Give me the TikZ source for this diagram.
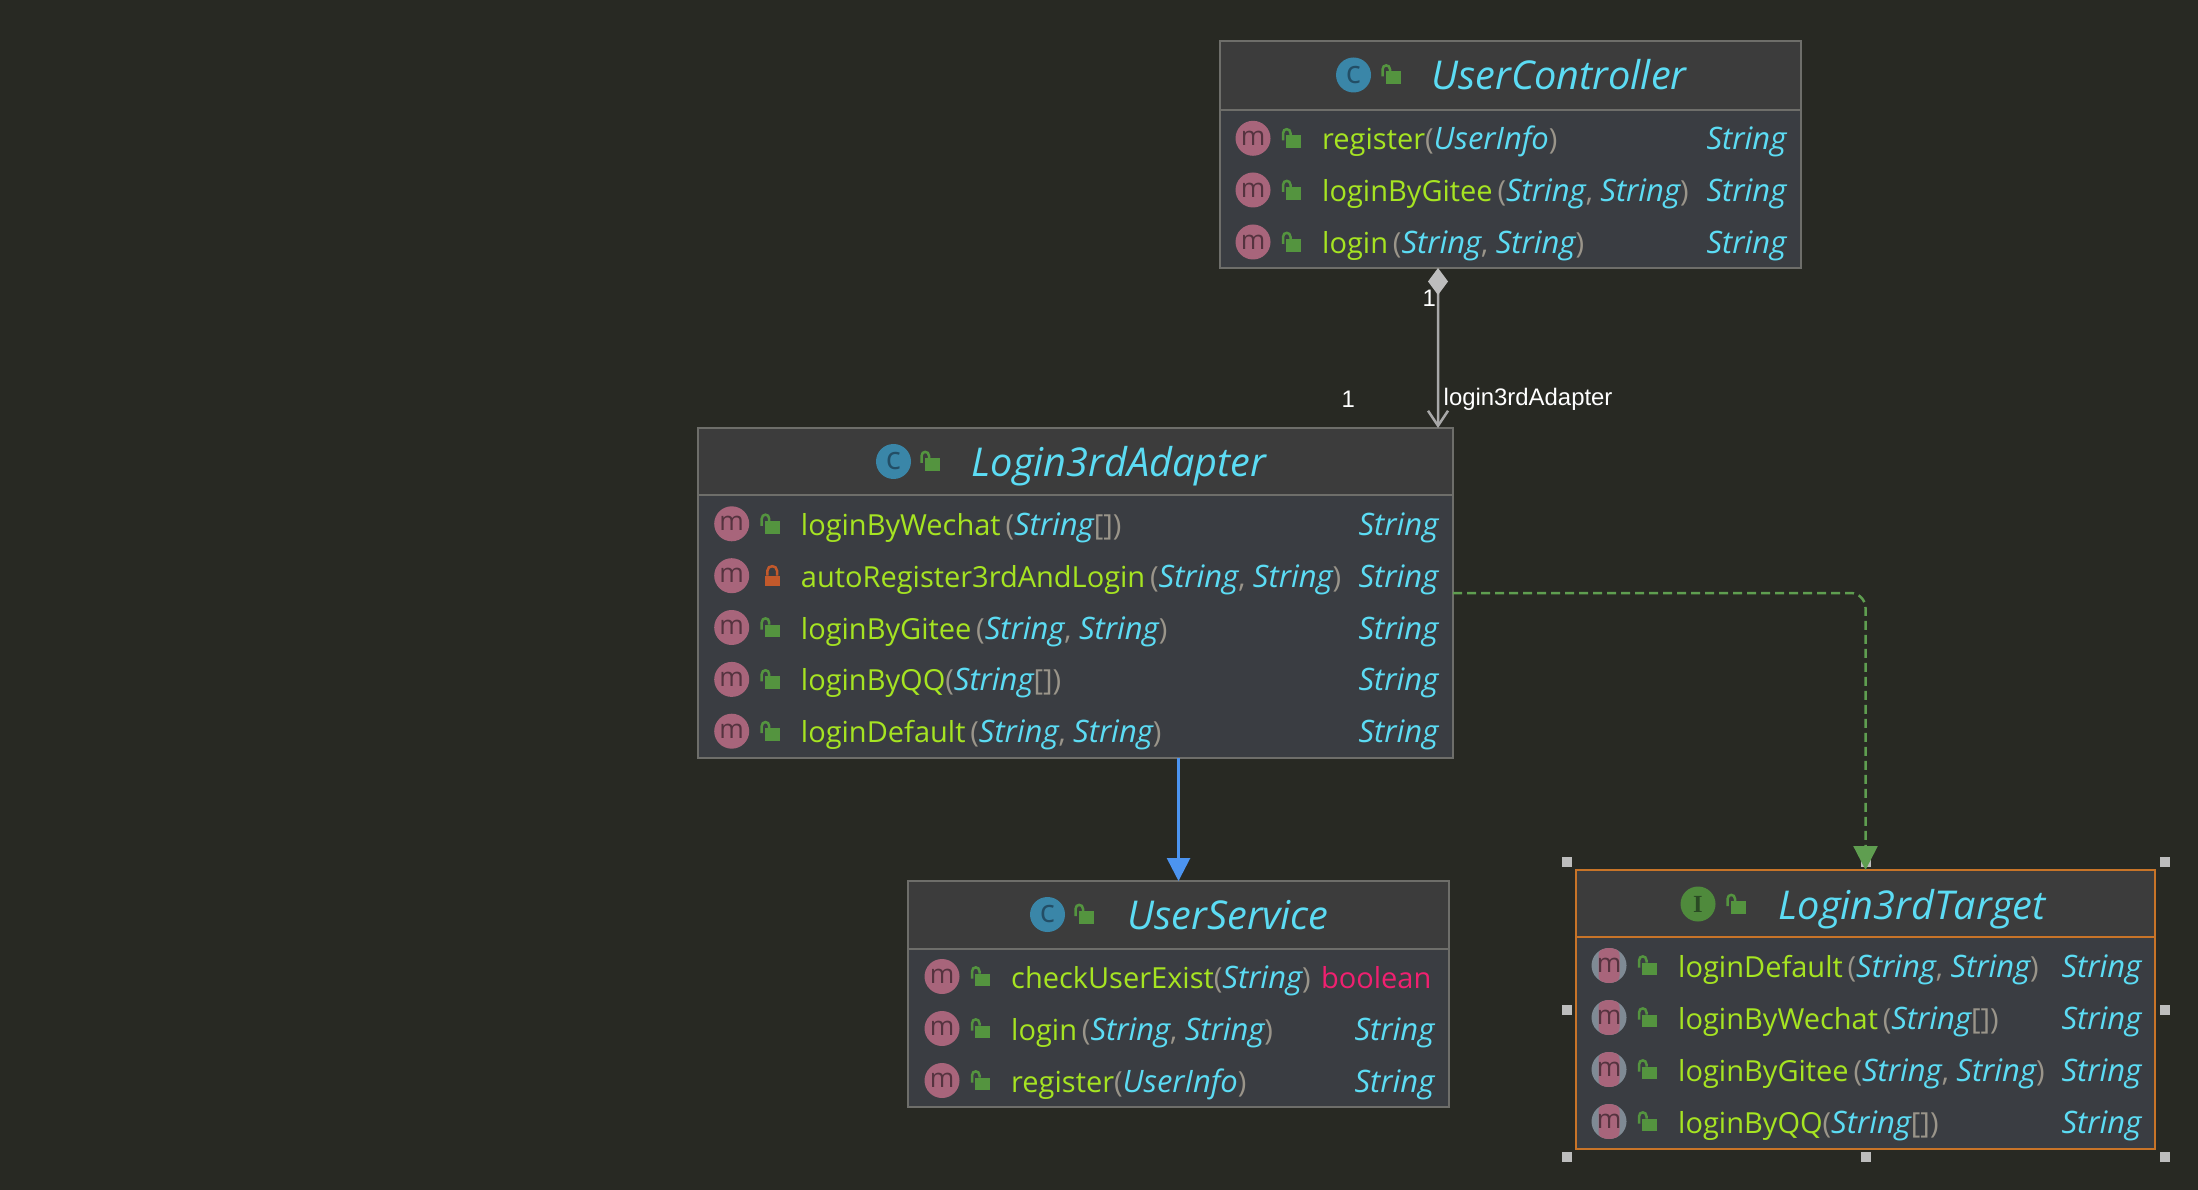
\documentclass[tikz,border=0pt]{standalone}
\usepackage{fontspec}
\setmainfont{Open Sans}
\newfontfamily\labelfont{Liberation Sans}
\newfontfamily\glyphserif{Liberation Serif}
\usetikzlibrary{arrows.meta}

\definecolor{bgdark}{HTML}{282923}
\definecolor{headfill}{HTML}{3C3C3C}
\definecolor{bodyfill}{HTML}{3A3D42}
\definecolor{boxline}{HTML}{6E6E6A}
\definecolor{selline}{HTML}{C87428}
\definecolor{methgreen}{HTML}{A6E422}
\definecolor{typecyan}{HTML}{5CDCF4}
\definecolor{parengray}{HTML}{9A958A}
\definecolor{boolpink}{HTML}{F02070}
\definecolor{mpink}{HTML}{A8657B}
\definecolor{mglyph}{HTML}{55333F}
\definecolor{mgray}{HTML}{7F8A94}
\definecolor{cblue}{HTML}{3A86A8}
\definecolor{cglyph}{HTML}{234E66}
\definecolor{igreen}{HTML}{4F8A3C}
\definecolor{iglyph}{HTML}{2A4A24}
\definecolor{lockgreen}{HTML}{54943F}
\definecolor{lockred}{HTML}{C2592B}
\definecolor{linegray}{HTML}{A8A8A8}
\definecolor{diamondgray}{HTML}{BDBDBD}
\definecolor{linkblue}{HTML}{4C94F0}
\definecolor{linkgreen}{HTML}{5F9E50}

\newcommand{\mn}[1]{\textcolor{methgreen}{#1}}
\newcommand{\ty}[1]{\textcolor{typecyan}{\fontsize{8.8}{9}\selectfont\itshape #1}}
\newcommand{\pa}[1]{\textcolor{parengray}{#1}}
\newcommand{\twostr}{\pa{(}\ty{String}\pa{,} \ty{String}\pa{)}}
\newcommand{\strarr}{\pa{(}\ty{String}\pa{[])}}
\newcommand{\methodrow}[7][openlock]{%
  \node[micon] (#2icon) at (#3,#4) {m};
  \pic at (#3+0.405,#4) {#1};
  \node[mtext] (#2name) at (#3+0.685,#4) {#5};
  \node[mtype] (#2type) at (#6,#4) {#7};
}

\tikzset{
  classbox/.style={draw=boxline, fill=bodyfill, line width=0.02cm, inner sep=0pt, outer sep=0pt},
  classhead/.style={draw=boxline, fill=headfill, line width=0.02cm},
  micon/.style={circle, fill=mpink, text=mglyph, minimum size=0.35cm, inner sep=0pt, font=\fontsize{7.5}{8}\selectfont},
  mselicon/.style={circle, fill=mgray, text=mglyph, minimum size=0.35cm, inner sep=0pt, font=\fontsize{7.5}{8}\selectfont,
    path picture={\fill[mpink, rounded corners=2pt] ([xshift=-0.105cm,yshift=-0.175cm]path picture bounding box.center) rectangle ([xshift=0.105cm,yshift=0.175cm]path picture bounding box.center);}},
  cicon/.style={circle, fill=cblue, text=cglyph, minimum size=0.35cm, inner sep=0pt, font=\fontsize{9}{9}\selectfont},
  iicon/.style={circle, fill=igreen, text=iglyph, minimum size=0.35cm, inner sep=0pt, font=\fontsize{7}{8}\glyphserif\bfseries},
  mtext/.style={anchor=base west, inner sep=0pt, yshift=-0.115cm, font=\fontsize{8.25}{9}\selectfont},
  mtype/.style={anchor=base east, inner sep=0pt, yshift=-0.115cm, font=\fontsize{8.25}{9}\selectfont},
  ctitle/.style={anchor=base west, inner sep=0pt, yshift=-0.155cm, text=typecyan, font=\fontsize{11.3}{13}\selectfont\itshape},
  cardlabel/.style={anchor=base west, inner sep=0pt, text=white, font=\fontsize{6.8}{8}\labelfont},
  handle/.style={rectangle, fill=diamondgray, minimum size=0.1cm, inner sep=0pt},
  openlock/.pic={
    \fill[lockgreen] (-0.075,-0.03) rectangle (0.075,0.097);
    \draw[lockgreen, line width=0.025cm] (-0.105,0.02) -- (-0.105,-0.05) .. controls (-0.105,-0.105) and (-0.03,-0.105) .. (-0.03,-0.05) -- (-0.03,-0.03);
  },
  closedlock/.pic={
    \fill[lockred] (-0.075,0) rectangle (0.075,0.10);
    \draw[lockred, line width=0.025cm] (-0.048,0) -- (-0.048,-0.05) .. controls (-0.048,-0.11) and (0.048,-0.11) .. (0.048,-0.05) -- (0.048,0);
  }
}

\begin{document}
\begin{tikzpicture}[x=1cm, y=-1cm]
\fill[bgdark] (0,0) rectangle (21.98,11.90);

\node[classbox, minimum width=5.81cm, minimum height=2.27cm] (userController) at (15.105,1.545) {};
\draw[classhead] (userController.north west) rectangle (userController.east |- 0,1.10);
\node[cicon] (ucIcon) at (13.535,0.75) {c};
\pic at (13.93,0.745) {openlock};
\node[ctitle] (ucTitle) at (14.31,0.745) {UserController};
\methodrow{ucRegister}{12.53}{1.383}{\mn{register}\pa{(}\ty{UserInfo}\pa{)}}{17.87}{\ty{String}}
\methodrow{ucGitee}{12.53}{1.90}{\mn{loginByGitee}\,\twostr}{17.87}{\ty{String}}
\methodrow{ucLogin}{12.53}{2.42}{\mn{login}\,\twostr}{17.87}{\ty{String}}

\node[classbox, minimum width=7.55cm, minimum height=3.30cm] (login3rdAdapter) at (10.755,5.93) {};
\draw[classhead] (login3rdAdapter.north west) rectangle (login3rdAdapter.east |- 0,4.95);
\node[cicon] (laIcon) at (8.935,4.615) {c};
\pic at (9.32,4.61) {openlock};
\node[ctitle] (laTitle) at (9.71,4.61) {Login3rdAdapter};
\methodrow{laWechat}{7.317}{5.238}{\mn{loginByWechat}\,\strarr}{14.39}{\ty{String}}
\methodrow[closedlock]{laAuto}{7.317}{5.757}{\mn{autoRegister3rdAndLogin}\,\twostr}{14.39}{\ty{String}}
\methodrow{laGitee}{7.317}{6.275}{\mn{loginByGitee}\,\twostr}{14.39}{\ty{String}}
\methodrow{laQQ}{7.317}{6.794}{\mn{loginByQQ}\strarr}{14.39}{\ty{String}}
\methodrow{laDefault}{7.317}{7.312}{\mn{loginDefault}\,\twostr}{14.39}{\ty{String}}

\node[classbox, minimum width=5.41cm, minimum height=2.26cm] (userService) at (11.785,9.94) {};
\draw[classhead] (userService.north west) rectangle (userService.east |- 0,9.49);
\node[cicon] (usIcon) at (10.475,9.145) {c};
\pic at (10.86,9.14) {openlock};
\node[ctitle] (usTitle) at (11.27,9.14) {UserService};
\methodrow{usCheck}{9.42}{9.765}{\mn{checkUserExist}\pa{(}\ty{String}\pa{)}}{14.32}{\textcolor{boolpink}{boolean}}
\methodrow{usLogin}{9.42}{10.285}{\mn{login}\,\twostr}{14.35}{\ty{String}}
\methodrow{usRegister}{9.42}{10.805}{\mn{register}\pa{(}\ty{UserInfo}\pa{)}}{14.35}{\ty{String}}

\node[handle] (hNW) at (15.67,8.62) {};
\node[handle] (hN) at (18.66,8.62) {};
\node[handle] (hNE) at (21.65,8.62) {};
\node[handle] (hW) at (15.67,10.10) {};
\node[handle] (hE) at (21.65,10.10) {};
\node[handle] (hSW) at (15.67,11.57) {};
\node[handle] (hS) at (18.66,11.57) {};
\node[handle] (hSE) at (21.65,11.57) {};

\node[classbox, draw=selline, minimum width=5.79cm, minimum height=2.79cm] (login3rdTarget) at (18.655,10.095) {};
\draw[classhead, draw=selline] (login3rdTarget.north west) rectangle (login3rdTarget.east |- 0,9.37);
\node[iicon] (ltIcon) at (16.98,9.04) {I};
\pic at (17.38,9.04) {openlock};
\node[ctitle] (ltTitle) at (17.78,9.04) {Login3rdTarget};
\begin{scope}[micon/.style=mselicon]
\methodrow{ltDefault}{16.09}{9.655}{\mn{loginDefault}\,\twostr}{21.42}{\ty{String}}
\methodrow{ltWechat}{16.09}{10.175}{\mn{loginByWechat}\,\strarr}{21.42}{\ty{String}}
\methodrow{ltGitee}{16.09}{10.695}{\mn{loginByGitee}\,\twostr}{21.42}{\ty{String}}
\methodrow{ltQQ}{16.09}{11.215}{\mn{loginByQQ}\strarr}{21.42}{\ty{String}}
\end{scope}

\draw[linegray, line width=0.025cm, {Diamond[length=0.27cm,width=0.2cm,color=diamondgray,fill=diamondgray]}-{Straight Barb[length=0.15cm,width=0.2cm]}] ([xshift=-0.725cm]userController.south) -- ([xshift=3.625cm]login3rdAdapter.north);
\node[cardlabel] (ucCard) at (14.22,3.07) {1};
\node[cardlabel] (laCard) at (13.41,4.08) {1};
\node[cardlabel] (laRole) at (14.43,4.06) {login3rdAdapter};

\draw[linkblue, line width=0.027cm, -{Triangle[length=0.23cm,width=0.23cm]}] (login3rdAdapter.south -| userService.north) -- (userService.north);
\draw[linkgreen, line width=0.025cm, dash pattern=on 0.09cm off 0.05cm, rounded corners=0.15cm, -{Triangle[length=0.24cm,width=0.24cm]}] (login3rdAdapter.east) -| (login3rdTarget.north);
\end{tikzpicture}
\end{document}
